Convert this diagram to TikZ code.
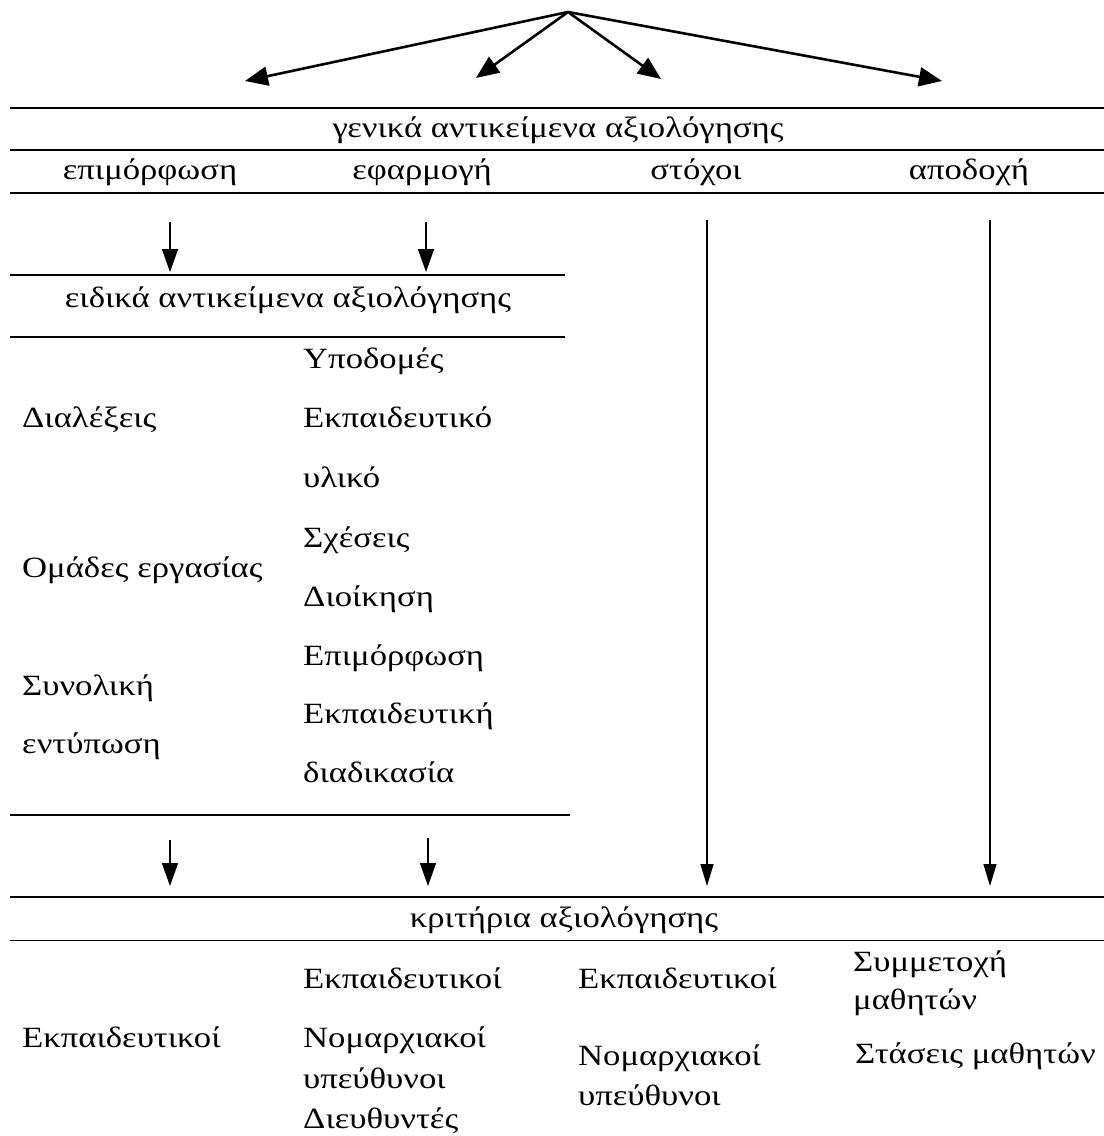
\documentclass[tikz,border=0pt]{standalone}
\usepackage{fontspec}
\setmainfont[FakeStretch=1.18]{Liberation Serif}
\usetikzlibrary{arrows.meta}
\begin{document}
\begin{tikzpicture}[x=1bp,y=-1bp,
  lbl/.style={inner sep=0pt,font=\fontsize{29.5}{34}\selectfont,text height=20bp,text depth=7bp},
  rule/.style={line width=1.8pt},
  bigarr/.style={line width=2.6pt,-{Triangle[length=23bp,width=19bp]}},
  downarr/.style={line width=1.5pt,-{Triangle[length=23bp,width=16bp]}},
  longarr/.style={line width=1.3pt,-{Triangle[length=22bp,width=13bp]}}]
\useasboundingbox (0,0) rectangle (1104,1136);
% top fan
\coordinate (apex) at (568,12);
\coordinate (t1) at (245,81);
\coordinate (t2) at (476,78);
\coordinate (t3) at (661,79);
\coordinate (t4) at (942,81);
\draw[bigarr] (apex) -- (t1);
\draw[bigarr] (apex) -- (t2);
\draw[bigarr] (apex) -- (t3);
\draw[bigarr] (apex) -- (t4);
% general objects band
\draw[rule] (10,108) -- (1104,108);
\node[lbl] (gen) at (558,131) {γενικά αντικείμενα αξιολόγησης};
\draw[rule] (10,150) -- (1104,150);
\node[lbl] (epi) at (150,173) {επιμόρφωση};
\node[lbl] (efa) at (422,173) {εφαρμογή};
\node[lbl] (sto) at (696,173) {στόχοι};
\node[lbl] (apo) at (969,173) {αποδοχή};
\draw[rule] (10,193) -- (1104,193);
% arrows down to special objects
\coordinate (a1s) at (170,222); \coordinate (a1e) at (170,272);
\coordinate (a2s) at (426,222); \coordinate (a2e) at (426,272);
\draw[downarr] (a1s) -- (a1e);
\draw[downarr] (a2s) -- (a2e);
% long arrows
\coordinate (a3s) at (707,220); \coordinate (a3e) at (707,886);
\coordinate (a4s) at (990,220); \coordinate (a4e) at (990,886);
\draw[longarr] (a3s) -- (a3e);
\draw[longarr] (a4s) -- (a4e);
% special objects band
\draw[rule] (10,275) -- (565,275);
\node[lbl] (eid) at (288,301) {ειδικά αντικείμενα αξιολόγησης};
\draw[rule] (10,337) -- (565,337);
% left column
\node[lbl,anchor=west] (dial) at (22,421) {Διαλέξεις};
\node[lbl,anchor=west] (omad) at (22,571) {Ομάδες εργασίας};
\node[lbl,anchor=west] (syn) at (22,689) {Συνολική};
\node[lbl,anchor=west] (ent) at (22,747) {εντύπωση};
% middle column
\node[lbl,anchor=west] (m1) at (303,362) {Υποδομές};
\node[lbl,anchor=west] (m2) at (303,421) {Εκπαιδευτικό};
\node[lbl,anchor=west] (m3) at (303,481) {υλικό};
\node[lbl,anchor=west] (m4) at (303,541) {Σχέσεις};
\node[lbl,anchor=west] (m5) at (303,600) {Διοίκηση};
\node[lbl,anchor=west] (m6) at (303,659) {Επιμόρφωση};
\node[lbl,anchor=west] (m7) at (303,717) {Εκπαιδευτική};
\node[lbl,anchor=west] (m8) at (303,776) {διαδικασία};
\draw[rule] (10,815) -- (570,815);
% arrows down to criteria
\coordinate (b1s) at (170,840); \coordinate (b1e) at (170,886);
\coordinate (b2s) at (428,838); \coordinate (b2e) at (428,886);
\draw[downarr] (b1s) -- (b1e);
\draw[downarr] (b2s) -- (b2e);
% criteria band
\draw[rule] (10,897) -- (1104,897);
\node[lbl] (kri) at (564,921) {κριτήρια αξιολόγησης};
\draw[rule,line width=1pt] (10,940) -- (1104,940);
% bottom
\node[lbl,anchor=west] (c1) at (22,1041) {Εκπαιδευτικοί};
\node[lbl,anchor=west] (c2a) at (303,982) {Εκπαιδευτικοί};
\node[lbl,anchor=west] (c2b) at (303,1041) {Νομαρχιακοί};
\node[lbl,anchor=west] (c2c) at (303,1082) {υπεύθυνοι};
\node[lbl,anchor=west] (c2d) at (303,1122) {Διευθυντές};
\node[lbl,anchor=west] (c3a) at (578,982) {Εκπαιδευτικοί};
\node[lbl,anchor=west] (c3b) at (578,1059) {Νομαρχιακοί};
\node[lbl,anchor=west] (c3c) at (578,1099) {υπεύθυνοι};
\node[lbl,anchor=west] (c4a) at (853,965) {Συμμετοχή};
\node[lbl,anchor=west] (c4b) at (853,1003) {μαθητών};
\node[lbl,anchor=west] (c4c) at (855,1057) {Στάσεις μαθητών};
\end{tikzpicture}
\end{document}
